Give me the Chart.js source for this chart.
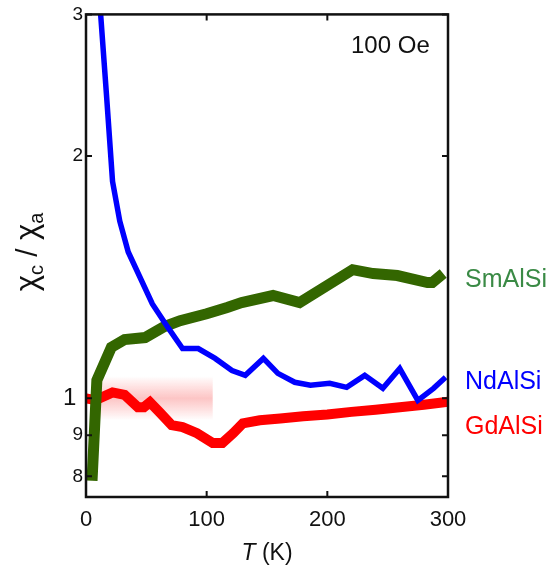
<!DOCTYPE html>
<html>
<head>
<meta charset="utf-8">
<script src="https://cdn.jsdelivr.net/npm/chart.js@4"></script>
<style>
  html, body { margin: 0; padding: 0; background: #fff; }
  #wrap { width: 552px; height: 572px; }
</style>
</head>
<body>
<div id="wrap"><canvas id="c" width="552" height="572"></canvas></div>
<script>
// chi_c / chi_a vs T
const ndT   = [12, 17, 22, 28, 35, 55, 68, 80, 93, 107, 121, 132, 147, 159, 173, 186, 202, 216, 231, 246, 260, 275, 288, 298];
const ndChi = [3.02, 2.38, 1.86, 1.66, 1.52, 1.31, 1.224, 1.153, 1.153, 1.121, 1.083, 1.068, 1.121, 1.074, 1.047, 1.038, 1.044, 1.032, 1.068, 1.029, 1.089, 0.994, 1.029, 1.062];

const smT   = [5, 9, 21, 32, 49, 65, 78, 100, 117, 129, 155, 177, 221, 238, 258, 283, 287, 296];
const smChi = [0.79, 1.053, 1.157, 1.183, 1.19, 1.228, 1.249, 1.274, 1.297, 1.315, 1.342, 1.315, 1.445, 1.429, 1.421, 1.393, 1.393, 1.429];

const gdT   = [0, 8, 22, 32, 43, 48, 53, 61, 71, 80, 92, 105, 113, 122, 130, 144, 161, 180, 200, 220, 240, 260, 280, 300];
const gdChi = [1.0, 0.995, 1.017, 1.01, 0.975, 0.975, 0.989, 0.961, 0.926, 0.921, 0.905, 0.88, 0.88, 0.905, 0.931, 0.939, 0.944, 0.95, 0.955, 0.962, 0.968, 0.975, 0.982, 0.99];

const yTicks = [0.8, 0.9, 1, 2, 3];
const yTickLabels = ['8', '9', '1 ', '2', '3'];
const xTicks = [0, 100, 200, 300];

const seriesNames = ['SmAlSi', 'NdAlSi', 'GdAlSi'];
const FONT = '"Liberation Sans", Arial, sans-serif';

function pts(xs, ys) {
  return xs.map((x, i) => ({ x, y: ys[i] }));
}

// frame, inward ticks, pink band and all the free text
const decorations = {
  id: 'decorations',
  beforeDatasetsDraw(chart) {
    const { ctx, scales: { x, y } } = chart;
    // faint pink band around chi = 1
    const x0 = x.getPixelForValue(10), x1 = x.getPixelForValue(105);
    const yc = y.getPixelForValue(1);
    const g = ctx.createLinearGradient(0, yc - 22, 0, yc + 22);
    g.addColorStop(0, 'rgba(255,140,140,0)');
    g.addColorStop(0.5, 'rgba(250,150,150,0.55)');
    g.addColorStop(1, 'rgba(255,140,140,0)');
    ctx.save();
    ctx.fillStyle = g;
    ctx.fillRect(x0, yc - 22, x1 - x0, 44);
    ctx.restore();
  },
  afterDraw(chart) {
    const { ctx, chartArea: a, scales: { x, y } } = chart;
    ctx.save();
    ctx.strokeStyle = '#111';
    ctx.lineWidth = 2.5;
    ctx.strokeRect(a.left, a.top, a.right - a.left, a.bottom - a.top);
    ctx.lineWidth = 2;
    const tl = 6;
    ctx.beginPath();
    xTicks.slice(1, -1).forEach(v => {
      const px = x.getPixelForValue(v);
      ctx.moveTo(px, a.bottom); ctx.lineTo(px, a.bottom - tl);
      ctx.moveTo(px, a.top); ctx.lineTo(px, a.top + tl);
    });
    yTicks.forEach(v => {
      const py = y.getPixelForValue(v);
      ctx.moveTo(a.left, py); ctx.lineTo(a.left + tl, py);
      ctx.moveTo(a.right, py); ctx.lineTo(a.right - tl, py);
    });
    ctx.stroke();

    // field annotation
    ctx.fillStyle = '#111';
    ctx.font = `24px ${FONT}`;
    ctx.textAlign = 'left';
    ctx.textBaseline = 'middle';
    ctx.fillText('100 Oe', 351, 46);

    // series names on the right
    const nameColors = ['#3a8a45', '#0000ff', '#ff0000'];
    const nameY = [280, 382, 427];
    ctx.font = `25px ${FONT}`;
    seriesNames.forEach((n, i) => {
      ctx.fillStyle = nameColors[i];
      ctx.fillText(n, 465, nameY[i]);
    });

    // x title: italic T (K)
    ctx.fillStyle = '#111';
    ctx.textBaseline = 'alphabetic';
    ctx.font = `italic 23px ${FONT}`;
    const tW = ctx.measureText('T').width;
    ctx.font = `23px ${FONT}`;
    const kW = ctx.measureText(' (K)').width;
    const sx = (a.left + a.right) / 2 - (tW + kW) / 2;
    ctx.font = `italic 23px ${FONT}`;
    ctx.fillText('T', sx, 560);
    ctx.font = `23px ${FONT}`;
    ctx.fillText(' (K)', sx + tW, 560);

    // y title: chi_c / chi_a, rotated
    ctx.translate(37, 252);
    ctx.rotate(-Math.PI / 2);
    const parts = [['χ', 31, 0], ['c', 20, 6], [' / ', 30, 0], ['χ', 31, 0], ['a', 20, 6]];
    let total = 0;
    parts.forEach(p => { ctx.font = `${p[1]}px ${FONT}`; total += ctx.measureText(p[0]).width; });
    let cx = -total / 2;
    parts.forEach(p => {
      ctx.font = `${p[1]}px ${FONT}`;
      ctx.fillText(p[0], cx, p[2]);
      cx += ctx.measureText(p[0]).width;
    });
    ctx.restore();
  }
};

new Chart(document.getElementById('c'), {
  type: 'line',
  data: {
    datasets: [
      { label: seriesNames[1], data: pts(ndT, ndChi), borderColor: '#0000ff', borderWidth: 5.5, pointRadius: 0, tension: 0, clip: 0 },
      { label: seriesNames[0], data: pts(smT, smChi), borderColor: '#336600', borderWidth: 11, pointRadius: 0, tension: 0, clip: 0 },
      { label: seriesNames[2], data: pts(gdT, gdChi), borderColor: '#ff0000', borderWidth: 10, pointRadius: 0, tension: 0, clip: 6 }
    ]
  },
  options: {
    responsive: false,
    animation: false,
    layout: { padding: { left: 0, right: 104, top: 13, bottom: 0 } },
    plugins: { legend: { display: false }, tooltip: { enabled: false } },
    scales: {
      x: {
        type: 'linear', min: 0, max: 300,
        grid: { display: false, drawTicks: false },
        border: { display: false },
        afterBuildTicks: s => { s.ticks = xTicks.map(v => ({ value: v })); },
        afterFit: s => { s.height = 75; },
        ticks: { color: '#111', padding: 10, maxRotation: 0, font: { size: 22, family: FONT } }
      },
      y: {
        type: 'logarithmic', min: 0.754, max: 3,
        grid: { display: false, drawTicks: false },
        border: { display: false },
        afterBuildTicks: s => { s.ticks = yTicks.map(v => ({ value: v })); },
        afterFit: s => { s.width = 86; },
        ticks: {
          color: '#111', padding: 3,
          callback: v => yTickLabels[yTicks.indexOf(v)] ?? '',
          font: c => ({ size: c.tick && c.tick.value === 1 ? 24 : 19, family: FONT })
        }
      }
    }
  },
  plugins: [decorations]
});
</script>
</body>
</html>
